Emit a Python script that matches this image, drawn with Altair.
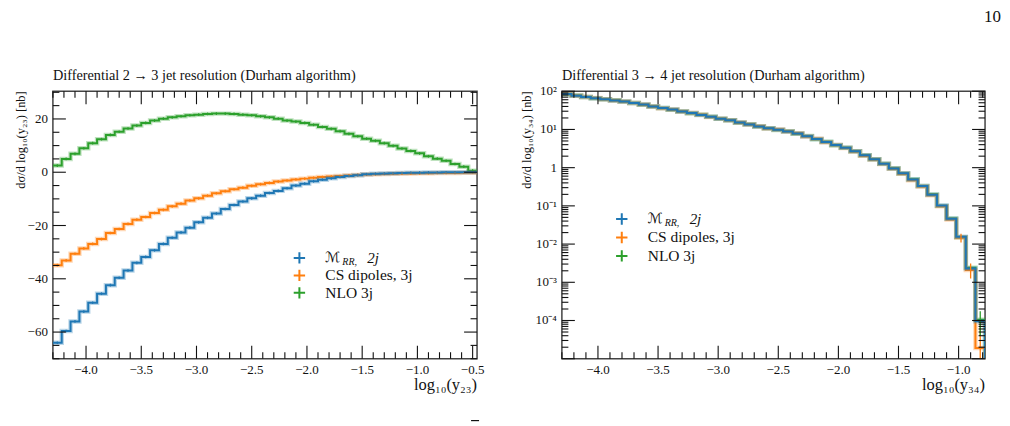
import numpy as np
import pandas as pd
import altair as alt

FONT = "Liberation Serif"
INK = "#111111"

SERIES = ["mrr", "cs", "nlo"]
SERIES_COLORS = {"mrr": "#1f77b4", "cs": "#ff7f0e", "nlo": "#2ca02c"}
DRAW_ORDER = ["nlo", "cs", "mrr"]

# ---- 2 -> 3 jet resolution: 48 bins in log10(y23) ----
y23_range = (-4.30, -0.46)
y23_nbins = 48
y23_mrr = [-64.0, -59.6, -56.0, -52.3, -49.0, -45.6, -42.4, -39.6, -36.9, -34.0,
           -31.8, -29.3, -26.9, -24.6, -22.6, -20.8, -18.8, -17.1, -15.5, -13.8,
           -12.3, -11.0, -9.8, -8.8, -7.8, -7.0, -6.0, -5.0, -4.3, -3.4,
           -2.8, -2.3, -1.8, -1.4, -1.1, -0.75, -0.6, -0.5, -0.4, -0.3,
           -0.2, -0.15, -0.1, -0.1, -0.05, -0.05, 0.0, 0.0]
y23_cs = [-34.9, -33.1, -30.6, -28.6, -26.9, -25.1, -22.8, -21.3, -19.4, -17.8,
          -16.8, -15.3, -14.1, -12.8, -11.8, -10.6, -9.8, -8.8, -7.9, -7.1,
          -6.4, -5.8, -5.1, -4.5, -4.0, -3.5, -3.1, -2.7, -2.4, -2.1,
          -1.8, -1.6, -1.4, -1.2, -1.0, -0.85, -0.75, -0.65, -0.55, -0.5,
          -0.45, -0.4, -0.35, -0.3, -0.3, -0.25, -0.2, -0.15]
y23_nlo = [2.5, 5.0, 6.9, 9.0, 10.9, 12.4, 14.0, 15.2, 16.4, 17.5,
           18.5, 19.4, 20.1, 20.6, 21.0, 21.4, 21.6, 21.9, 22.0, 22.0,
           21.9, 21.6, 21.4, 21.0, 20.6, 20.1, 19.4, 19.0, 18.5, 17.8,
           17.0, 16.3, 15.4, 14.4, 13.5, 12.6, 11.8, 10.9, 9.9, 8.9,
           8.0, 7.1, 6.0, 5.1, 4.3, 3.1, 2.1, 0.6]
y23_err = 0.5  # statistical half-width of every bin [nb]

y23_x_major = [-4.0, -3.5, -3.0, -2.5, -2.0, -1.5, -1.0, -0.5]
y23_x_labels = ["\u22124.0", "\u22123.5", "\u22123.0", "\u22122.5", "\u22122.0", "\u22121.5", "\u22121.0", "\u22120.5"]
y23_y_major = [-60, -40, -20, 0, 20]
y23_y_labels = ["\u221260", "\u221240", "\u221220", "0", "20"]

# ---- 3 -> 4 jet resolution: 44 bins in log10(y34) ----
y34_range = (-4.30, -0.78)
y34_nbins = 44
y34_mrr = [85, 76, 71, 66, 62, 57.5, 53.7, 49, 44.7, 39.8,
           36.3, 33.1, 29.5, 26.9, 24.0, 21.4, 19.1, 17.4, 15.1, 13.5,
           12.0, 10.7, 9.8, 8.9, 7.8, 6.6, 5.6, 4.7, 3.9, 3.3,
           2.7, 2.1, 1.66, 1.27, 0.95, 0.71, 0.49, 0.33, 0.195, 0.102,
           0.046, 0.0155, 0.0023, 9.5e-5]
y34_cs = [86, 76, 71, 66.5, 62, 57, 54, 49, 45, 40,
          36, 33.3, 29.6, 26.8, 24.2, 21.3, 19.2, 17.3, 15.2, 13.4,
          12.1, 10.6, 9.9, 8.8, 7.9, 6.5, 5.7, 4.6, 3.9, 3.25,
          2.65, 2.05, 1.63, 1.24, 0.93, 0.69, 0.47, 0.32, 0.19, 0.098,
          0.044, 0.0148, 0.0021, 1.9e-5]
y34_nlo = [84, 77, 70.5, 66, 61.5, 57.8, 53.5, 49.3, 44.5, 40,
           36.2, 33, 29.7, 26.7, 24.1, 21.5, 19.0, 17.5, 15.0, 13.6,
           11.9, 10.8, 9.7, 9.0, 7.7, 6.7, 5.5, 4.75, 3.85, 3.3,
           2.68, 2.1, 1.65, 1.26, 0.96, 0.70, 0.50, 0.33, 0.2, 0.10,
           0.047, 0.0152, 0.0024, 1.05e-4]
# visible error bars in the last bins
y34_err_series = ["cs", "cs", "cs", "nlo"]
y34_err_bin = [41, 42, 43, 43]
y34_err_lo = [0.0110, 0.00126, 1e-7, 4e-5]
y34_err_hi = [0.0185, 0.0031, 8e-5, 1.75e-4]

y34_x_major = [-4.0, -3.5, -3.0, -2.5, -2.0, -1.5, -1.0]
y34_x_labels = ["\u22124.0", "\u22123.5", "\u22123.0", "\u22122.5", "\u22122.0", "\u22121.5", "\u22121.0"]
y34_y_major = [1e-5, 1e-4, 1e-3, 1e-2, 1e-1, 1, 10, 100]
y34_y_labels = ["", "10\u207b\u2074", "10\u207b\u00b3", "10\u207b\u00b2", "10\u207b\u00b9", "1", "10\u00b9", "10\u00b2"]

LEGEND_LABELS = {"cs": "CS dipoles, 3j", "nlo": "NLO 3j"}

W_L, W_R, H = 425, 424, 268
MAJOR, MINOR = 13, 6.5


def edges(rng, n):
    return np.round(np.linspace(rng[0], rng[1], n + 1), 4)


def step_rows(series, vals, e, drop_to=None):
    rows = [{"series": series, "x": e[i], "v": v, "k": i} for i, v in enumerate(vals)]
    rows.append({"series": series, "x": e[len(vals)], "v": vals[-1], "k": len(vals)})
    if drop_to is not None:
        rows.append({"series": series, "x": e[len(vals)], "v": drop_to, "k": len(vals) + 1})
    return pd.DataFrame(rows)


def minor_between(lo, hi, step, majors):
    vals = np.round(np.arange(lo, hi + 1e-9, step), 4)
    return [float(v) for v in vals if not any(abs(v - m) < 1e-6 for m in majors)]


def frame_ticks(xs_major, xs_minor, ys_major, ys_minor, xsc, ysc, W):
    layers = []
    for vals, size in ((xs_major, MAJOR), (xs_minor, MINOR)):
        d = pd.DataFrame({"t": vals})
        for y0, y1 in ((H, H - size), (0, size)):
            layers.append(alt.Chart(d).mark_rule(color=INK, strokeWidth=1.1).encode(
                x=alt.X("t:Q", scale=xsc, axis=None),
                y=alt.value(y0), y2=alt.value(y1)))
    for vals, size in ((ys_major, MAJOR), (ys_minor, MINOR)):
        d = pd.DataFrame({"t": vals})
        for x0, x1 in ((0, size), (W, W - size)):
            layers.append(alt.Chart(d).mark_rule(color=INK, strokeWidth=1.1).encode(
                y=alt.Y("t:Q", scale=ysc, axis=None),
                x=alt.value(x0), x2=alt.value(x1)))
    return layers


def tick_labels(xs, xl, ys, yl, xsc, ysc):
    dx = pd.DataFrame({"t": xs, "s": xl})
    dy = pd.DataFrame({"t": ys, "s": yl})
    lx = alt.Chart(dx).mark_text(font=FONT, fontSize=13, color=INK, baseline="middle").encode(
        x=alt.X("t:Q", scale=xsc, axis=None), y=alt.value(H + 11), text="s:N")
    ly = alt.Chart(dy).mark_text(font=FONT, fontSize=13, color=INK, align="right",
                                 baseline="middle").encode(
        y=alt.Y("t:Q", scale=ysc, axis=None), x=alt.value(-5), text="s:N")
    return [lx, ly]


def hist_layers(frames, xsc, ysc):
    layers = []
    for s in DRAW_ORDER:
        d = frames[s]
        base = alt.Chart(d).encode(
            x=alt.X("x:Q", scale=xsc, axis=None),
            y=alt.Y("v:Q", scale=ysc, axis=None),
            order="k:Q")
        layers.append(base.mark_line(interpolate="step-after", clip=True,
                                     color=SERIES_COLORS[s], strokeWidth=4.5, opacity=0.3))
        layers.append(base.mark_line(interpolate="step-after", clip=True,
                                     color=SERIES_COLORS[s], strokeWidth=2))
    return layers


def legend_layers(x_mark, x_text, ys):
    layers = []
    plus = "M-1,0L1,0M0,-1L0,1"
    for s, yy in zip(SERIES, ys):
        layers.append(alt.Chart(pd.DataFrame({"a": [0]})).mark_point(
            shape=plus, filled=False, strokeWidth=2, size=130, opacity=1,
            color=SERIES_COLORS[s]).encode(x=alt.value(x_mark), y=alt.value(yy)))
    y0 = ys[0]
    one = pd.DataFrame({"a": [0]})
    layers.append(alt.Chart(one).mark_text(text="\u2133", font="DejaVu Sans", fontSize=14,
                                           align="left", baseline="middle", color=INK)
                  .encode(x=alt.value(x_text), y=alt.value(y0)))
    layers.append(alt.Chart(one).mark_text(text="RR,", font=FONT, fontSize=10, fontStyle="italic",
                                           align="left", baseline="middle", color=INK)
                  .encode(x=alt.value(x_text + 17), y=alt.value(y0 + 4)))
    layers.append(alt.Chart(one).mark_text(text="2j", font=FONT, fontSize=15, fontStyle="italic",
                                           align="left", baseline="middle", color=INK)
                  .encode(x=alt.value(x_text + 42), y=alt.value(y0)))
    for s, yy in zip(SERIES[1:], ys[1:]):
        layers.append(alt.Chart(one).mark_text(text=LEGEND_LABELS[s], font=FONT, fontSize=15.5,
                                               align="left", baseline="middle", color=INK)
                      .encode(x=alt.value(x_text), y=alt.value(yy)))
    return layers


def text_at(txt, x, y, size, align="left", angle=0, baseline="alphabetic"):
    return alt.Chart(pd.DataFrame({"a": [0]})).mark_text(
        text=txt, font=FONT, fontSize=size, align=align, angle=angle,
        baseline=baseline, color=INK).encode(x=alt.value(x), y=alt.value(y))


def anchor(x, y):
    return alt.Chart(pd.DataFrame({"a": [0]})).mark_point(
        size=0.01, opacity=0, strokeWidth=0).encode(x=alt.value(x), y=alt.value(y))


# ---------------- left panel ----------------
e23 = edges(y23_range, y23_nbins)
c23 = (e23[:-1] + e23[1:]) / 2
x23 = alt.Scale(domain=list(y23_range), nice=False, zero=False)
yy23 = alt.Scale(domain=[-70, 30.4], nice=False, zero=False)
f23 = {"mrr": step_rows("mrr", y23_mrr, e23),
       "cs": step_rows("cs", y23_cs, e23),
       "nlo": step_rows("nlo", y23_nlo, e23)}

err23 = []
for s, vals in (("nlo", y23_nlo), ("cs", y23_cs), ("mrr", y23_mrr)):
    d = pd.DataFrame({"c": c23, "lo": np.array(vals) - y23_err, "hi": np.array(vals) + y23_err})
    err23.append(alt.Chart(d).mark_rule(color=SERIES_COLORS[s], strokeWidth=1.2).encode(
        x=alt.X("c:Q", scale=x23, axis=None), y=alt.Y("lo:Q", scale=yy23, axis=None), y2="hi:Q"))

left_layers = (
    [anchor(-52, -90)]
    + hist_layers(f23, x23, yy23)
    + err23
    + frame_ticks(y23_x_major, minor_between(-4.3, -0.5, 0.1, y23_x_major),
                  y23_y_major, minor_between(-70, 30, 5, y23_y_major), x23, yy23, W_L)
    + tick_labels(y23_x_major, y23_x_labels, y23_y_major, y23_y_labels, x23, yy23)
    + legend_layers(247, 273, [167, 184.5, 202])
    + [text_at("Differential 2 \u2192 3 jet resolution (Durham algorithm)", 0, -11, 14.3),
       text_at("log\u2081\u2080(y\u2082\u2083)", W_L, H + 31, 16.5, align="right"),
       text_at("d\u03c3/d log\u2081\u2080(y\u2082\u2083) [nb]", -32, 0, 12.5, align="right",
               angle=270, baseline="middle"),
       text_at("10", 950, -69, 17, align="right"),
       alt.Chart(pd.DataFrame({"a": [0]})).mark_rule(color=INK, strokeWidth=1.2).encode(
           x=alt.value(419), x2=alt.value(427), y=alt.value(330))]
)
left = alt.layer(*left_layers).properties(width=W_L, height=H)

# ---------------- right panel ----------------
e34 = edges(y34_range, y34_nbins)
c34 = (e34[:-1] + e34[1:]) / 2
x34 = alt.Scale(domain=list(y34_range), nice=False, zero=False)
yy34 = alt.Scale(type="log", domain=[1e-5, 100], nice=False)
f34 = {"mrr": step_rows("mrr", y34_mrr, e34, drop_to=1e-7),
       "cs": step_rows("cs", y34_cs, e34, drop_to=1e-7),
       "nlo": step_rows("nlo", y34_nlo, e34, drop_to=1e-7)}

d_err34 = pd.DataFrame({"series": y34_err_series, "c": [c34[b] for b in y34_err_bin],
                        "lo": y34_err_lo, "hi": y34_err_hi})
err34 = alt.Chart(d_err34).mark_rule(strokeWidth=1.3, clip=True).encode(
    x=alt.X("c:Q", scale=x34, axis=None),
    y=alt.Y("lo:Q", scale=yy34, axis=None), y2="hi:Q",
    color=alt.Color("series:N", scale=alt.Scale(domain=SERIES, range=[SERIES_COLORS[s] for s in SERIES]),
                    legend=None))

log_minor = [float(k * 10.0 ** p) for p in range(-5, 2) for k in range(2, 10)]

right_layers = (
    hist_layers(f34, x34, yy34)
    + [err34]
    + frame_ticks(y34_x_major, minor_between(-4.3, -0.8, 0.1, y34_x_major),
                  y34_y_major, log_minor, x34, yy34, W_R)
    + tick_labels(y34_x_major, y34_x_labels, y34_y_major, y34_y_labels, x34, yy34)
    + legend_layers(60, 86, [128, 146.5, 165])
    + [text_at("Differential 3 \u2192 4 jet resolution (Durham algorithm)", 0, -11, 14.3),
       text_at("log\u2081\u2080(y\u2083\u2084)", W_R, H + 31, 16.5, align="right"),
       text_at("d\u03c3/d log\u2081\u2080(y\u2083\u2084) [nb]", -35, 0, 12.5, align="right",
               angle=270, baseline="middle"),
       anchor(448, 336)]
)
right = alt.layer(*right_layers).properties(width=W_R, height=H)

chart = alt.hconcat(left, right, spacing=85, bounds="flush").properties(
    padding=0, background="white"
).configure_view(stroke="#444444", strokeWidth=1.5)

chart.save("out.html", embed_options={"renderer": "svg", "actions": False})
